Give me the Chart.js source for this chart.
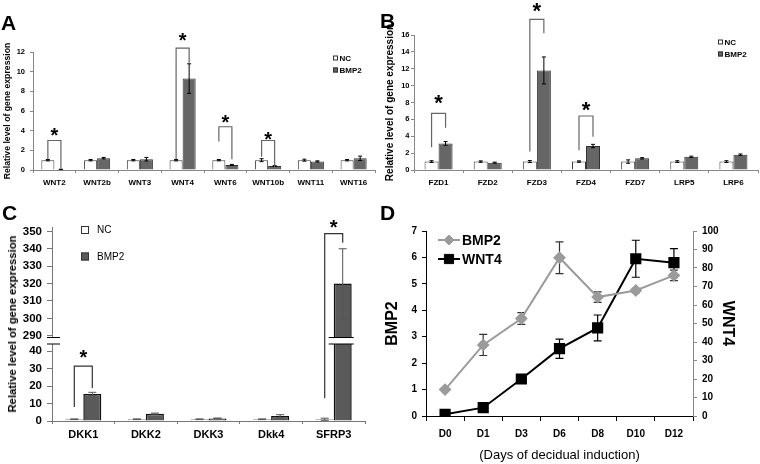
<!DOCTYPE html>
<html>
<head>
<meta charset="utf-8">
<script src="https://cdn.jsdelivr.net/npm/chart.js@4.4.1/dist/chart.umd.min.js"></script>
<style>
  body { margin: 0; background: #fff; }
  #figure { position: relative; width: 760px; height: 464px; overflow: hidden; font-family: 'Liberation Sans', Arial, sans-serif; }
  #figure canvas { position: absolute; }
  .tag { position: absolute; font-size: 21px; line-height: 21px; font-weight: bold; }
  .vtitle { position: absolute; white-space: nowrap; font-weight: bold; transform: translate(-50%, -50%) rotate(-90deg); }
</style>
</head>
<body>
<div id="figure">
  <canvas id="chartA" width="380" height="200" style="left:0;top:0"></canvas>
  <canvas id="chartB" width="380" height="200" style="left:380px;top:0"></canvas>
  <canvas id="chartCTop" width="380" height="125" style="left:0;top:215px"></canvas>
  <canvas id="chartCLow" width="380" height="124" style="left:0;top:340px"></canvas>
  <canvas id="chartD" width="380" height="244" style="left:380px;top:220px"></canvas>
  <div class="tag" style="left:1px;top:12px">A</div>
  <div class="tag" style="left:380px;top:10px">B</div>
  <div class="tag" style="left:2px;top:202px">C</div>
  <div class="tag" style="left:380px;top:202px">D</div>
  <div class="vtitle" style="left:12px;top:324px;font-size:11.25px">Relative level of gene expression</div>
</div>
<script>
/* ---- data ---- */
// A: WNT genes
const wntGenes = ['WNT2', 'WNT2b', 'WNT3', 'WNT4', 'WNT6', 'WNT10b', 'WNT11', 'WNT16'];
const wntNC = [1, 1, 1, 1, 1, 1, 1, 1];
const wntNCErr = [0.07, 0.07, 0.07, 0.07, 0.07, 0.15, 0.1, 0.07];
const wntBMP2 = [0.06, 1.2, 1.1, 9.3, 0.52, 0.4, 0.87, 1.19];
const wntBMP2Err = [0.02, 0.08, 0.18, 1.5, 0.05, 0.05, 0.06, 0.22];
// [index, left foot, top, right foot, star]
const wntSig = [[0, 1.1, 3.0, 0.15, 4.0], [3, 1.1, 12.4, 10.9, 13.7], [4, 2.9, 4.4, 1.1, 5.3], [5, 1.35, 3.0, 0.25, 3.65]];

// B: receptors
const fzdGenes = ['FZD1', 'FZD2', 'FZD3', 'FZD4', 'FZD7', 'LRP5', 'LRP6'];
const fzdNC = [1, 1, 1, 1, 1, 1, 1];
const fzdNCErr = [0.1, 0.08, 0.12, 0.08, 0.2, 0.1, 0.1];
const fzdBMP2 = [3.15, 0.87, 11.8, 2.84, 1.38, 1.56, 1.82];
const fzdBMP2Err = [0.22, 0.06, 1.6, 0.2, 0.08, 0.08, 0.08];
const fzdSig = [[0, 2.7, 6.7, 5.0, 8.6], [2, 2.2, 17.85, 16.2, 19.5], [3, 2.35, 6.4, 3.95, 7.8]];

// C: antagonists
const dkkGenes = ['DKK1', 'DKK2', 'DKK3', 'Dkk4', 'SFRP3'];
const dkkNC = [1, 1, 1, 1, 1];
const dkkNCErr = [0.2, 0.2, 0.2, 0.2, 0.6];
const dkkBMP2 = [15.5, 4.2, 1.5, 2.8, 320];
const dkkBMP2Err = [0.9, 0.3, 0.2, 0.8, 20];
const dkkSig = [[0, 8, 31.4, 18.9, 38.9], [4, 13, 348.7, 343.5, 354.8]];

// D: time course
const days = ['D0', 'D1', 'D3', 'D6', 'D8', 'D10', 'D12'];
const bmp2Course = [1.0, 2.69, 3.69, 5.99, 4.5, 4.75, 5.32];
const bmp2CourseErr = [0, 0.4, 0.22, 0.6, 0.2, 0.08, 0.2];
const wnt4Course = [0.9, 4.5, 20, 36.4, 47.6, 85, 82.9];
const wnt4CourseErr = [0, 0, 0, 5.2, 7, 10, 7.6];

/* ---- defaults ---- */
Chart.defaults.font.family = "'Liberation Sans', Arial, sans-serif";
Chart.defaults.color = '#000';
Chart.defaults.animation = false;
Chart.defaults.responsive = false;
Chart.defaults.plugins.legend.display = false;
Chart.defaults.plugins.tooltip.enabled = false;

const fixWidth = w => s => { s.width = w; s.paddingTop = 0; s.paddingBottom = 0; };
const fixHeight = h => s => { s.height = h; s.paddingLeft = 0; s.paddingRight = 0; };

/* ---- plugins ---- */
function errorBars(cap, width, under) {
    const draw = chart => {
        const { ctx, chartArea } = chart;
        ctx.save();
        ctx.beginPath();
        ctx.rect(chartArea.left - 10, chartArea.top - 1, chartArea.width + 20, chartArea.height + 2);
        ctx.clip();
        chart.data.datasets.forEach((ds, i) => {
            if (!ds.errors) return;
            const meta = chart.getDatasetMeta(i);
            const scale = chart.scales[meta.yAxisID];
            ctx.strokeStyle = ds.errorColor || '#000';
            ctx.lineWidth = width;
            meta.data.forEach((el, j) => {
                const err = ds.errors[j];
                if (!err) return;
                const hi = scale.getPixelForValue(ds.data[j] + err);
                const lo = scale.getPixelForValue(ds.data[j] - err);
                ctx.beginPath();
                ctx.moveTo(el.x, hi); ctx.lineTo(el.x, lo);
                ctx.moveTo(el.x - cap, hi); ctx.lineTo(el.x + cap, hi);
                ctx.moveTo(el.x - cap, lo); ctx.lineTo(el.x + cap, lo);
                ctx.stroke();
            });
        });
        ctx.restore();
    };
    return under ? { id: 'errorBars', beforeDatasetsDraw: draw } : { id: 'errorBars', afterDatasetsDraw: draw };
}

function sigBrackets(items, color, starSize) {
    return {
        id: 'sigBrackets',
        afterDatasetsDraw(chart) {
            const ctx = chart.ctx;
            const ys = chart.scales.y;
            const nc = chart.getDatasetMeta(0).data;
            const bmp = chart.getDatasetMeta(1).data;
            const py = v => Math.max(-30, Math.min(chart.height + 30, ys.getPixelForValue(v)));
            ctx.save();
            ctx.strokeStyle = color;
            ctx.lineWidth = 1.2;
            ctx.fillStyle = '#000';
            ctx.font = 'bold ' + starSize + "px 'Liberation Sans', Arial";
            ctx.textAlign = 'center';
            ctx.textBaseline = 'alphabetic';
            items.forEach(([i, left, top, right, star]) => {
                const x1 = nc[i].x, x2 = bmp[i].x;
                ctx.beginPath();
                ctx.moveTo(x1, py(left));
                ctx.lineTo(x1, py(top));
                ctx.lineTo(x2, py(top));
                ctx.lineTo(x2, py(right));
                ctx.stroke();
                ctx.fillText('*', (x1 + x2) / 2, py(star) + 0.57 * starSize);
            });
            ctx.restore();
        }
    };
}

function boxLegend(x, y, step, box, font, gap) {
    return {
        id: 'boxLegend',
        afterDraw(chart) {
            const ctx = chart.ctx;
            ctx.save();
            ctx.font = font;
            ctx.textAlign = 'left';
            ctx.textBaseline = 'middle';
            chart.data.datasets.forEach((ds, i) => {
                const cy = y + i * step;
                ctx.fillStyle = ds.backgroundColor;
                ctx.fillRect(x, cy - box / 2, box, box);
                ctx.strokeStyle = '#333';
                ctx.lineWidth = 1;
                ctx.strokeRect(x + 0.5, cy - box / 2 + 0.5, box - 1, box - 1);
                ctx.fillStyle = '#000';
                ctx.fillText(ds.label, x + box + gap, cy + 0.5);
            });
            ctx.restore();
        }
    };
}

function lineLegend(x1, x2, y, step, font) {
    return {
        id: 'lineLegend',
        afterDraw(chart) {
            const ctx = chart.ctx;
            ctx.save();
            ctx.font = font;
            ctx.textAlign = 'left';
            ctx.textBaseline = 'middle';
            chart.data.datasets.forEach((ds, i) => {
                const cy = y + i * step;
                ctx.strokeStyle = ds.borderColor;
                ctx.lineWidth = ds.borderWidth;
                ctx.beginPath();
                ctx.moveTo(x1, cy); ctx.lineTo(x2, cy);
                ctx.stroke();
                ctx.fillStyle = ds.pointBackgroundColor;
                ctx.lineWidth = 1;
                Chart.helpers.drawPoint(ctx, { pointStyle: ds.pointStyle, radius: ds.pointRadius, rotation: 0, borderWidth: 1 }, (x1 + x2) / 2, cy);
                ctx.fillStyle = '#000';
                ctx.fillText(ds.label, x2 + 2, cy + 1);
            });
            ctx.restore();
        }
    };
}

// axis break: short marks on the y axis and across cut bars
function breakMarks(edge) {
    return {
        id: 'breakMarks',
        afterDatasetsDraw(chart) {
            const { ctx, chartArea } = chart;
            const ys = chart.scales.y;
            const y = edge === 'top' ? chartArea.top : chartArea.bottom;
            ctx.save();
            ctx.strokeStyle = '#000';
            ctx.lineWidth = 1.2;
            ctx.beginPath();
            ctx.moveTo(chartArea.left - 5, y); ctx.lineTo(chartArea.left + 8, y);
            chart.data.datasets.forEach((ds, i) => {
                chart.getDatasetMeta(i).data.forEach((el, j) => {
                    const cut = edge === 'top' ? ds.data[j] > ys.max : ds.data[j] > ys.min;
                    if (cut) {
                        ctx.moveTo(el.x - el.width / 2 - 5, y);
                        ctx.lineTo(el.x + el.width / 2 + 2, y);
                    }
                });
            });
            ctx.stroke();
            ctx.restore();
        }
    };
}

/* ---- A & B: small bar panels ---- */
function smallBarPanel(id, genes, nc, ncErr, bmp, bmpErr, sig, o) {
    return new Chart(document.getElementById(id), {
        type: 'bar',
        data: {
            labels: genes,
            datasets: [
                { label: 'NC', data: nc, errors: ncErr, backgroundColor: '#ffffff', borderColor: '#3a3a3a', borderWidth: 1, categoryPercentage: o.cat, barPercentage: 1 },
                { label: 'BMP2', data: bmp, errors: bmpErr, backgroundColor: '#666666', borderColor: '#333333', borderWidth: 1, categoryPercentage: o.cat, barPercentage: 1 }
            ]
        },
        options: {
            layout: { padding: { top: o.top, right: o.right, bottom: 0, left: 0 } },
            scales: {
                x: {
                    grid: { drawOnChartArea: false, tickLength: 3, color: '#888' },
                    border: { color: '#888' },
                    ticks: { font: { size: 8, weight: 'bold' }, padding: 5, autoSkip: false, maxRotation: 0 },
                    afterFit: fixHeight(30)
                },
                y: {
                    min: 0, max: o.max,
                    grid: { drawOnChartArea: false, tickLength: 3, color: '#888' },
                    border: { color: '#888' },
                    ticks: { stepSize: 2, font: { size: 7.5, weight: 'bold' }, padding: o.tickPad },
                    title: { display: true, text: 'Relative level of gene expression', font: { size: o.titleSize, weight: 'bold' }, padding: { top: o.titlePad, bottom: 0 } },
                    afterFit: fixWidth(o.axisW)
                }
            }
        },
        plugins: [errorBars(2, 1, false), sigBrackets(sig, '#666', o.star), boxLegend(o.legX, o.legY, 12, 5, "bold 8px 'Liberation Sans', Arial", 1.5)]
    });
}

smallBarPanel('chartA', wntGenes, wntNC, wntNCErr, wntBMP2, wntBMP2Err, wntSig,
    { cat: 0.61, top: 52, right: 5, max: 12, tickPad: 5, titleSize: 8.7, titlePad: 2, axisW: 33, star: 20, legX: 333, legY: 58 });
smallBarPanel('chartB', fzdGenes, fzdNC, fzdNCErr, fzdBMP2, fzdBMP2Err, fzdSig,
    { cat: 0.57, top: 35, right: 2, max: 16, tickPad: 1.5, titleSize: 10, titlePad: 4, axisW: 34, star: 22, legX: 338, legY: 42 });

/* ---- C: broken axis, two stacked charts ---- */
function dkkDatasets() {
    return [
        { label: 'NC', data: dkkNC, errors: dkkNCErr, errorColor: '#555', backgroundColor: '#ffffff', borderColor: '#8a8a8a', borderWidth: 1, categoryPercentage: 0.575, barPercentage: 1, clip: 0 },
        { label: 'BMP2', data: dkkBMP2, errors: dkkBMP2Err, errorColor: '#555', backgroundColor: '#5a5a5a', borderColor: '#111111', borderWidth: 1.5, categoryPercentage: 0.575, barPercentage: 1, clip: 0 }
    ];
}
const cTicks = { stepSize: 10, includeBounds: false, font: { size: 11.5, weight: 'bold' }, padding: 5 };

new Chart(document.getElementById('chartCTop'), {
    type: 'bar',
    data: { labels: dkkGenes, datasets: dkkDatasets() },
    options: {
        layout: { padding: { top: 12, right: 15, bottom: 2.5, left: 0 } },
        scales: {
            x: { display: false },
            y: {
                min: 289, max: 352.5,
                grid: { drawOnChartArea: false, tickLength: 5, color: '#777' },
                border: { color: '#777' },
                ticks: cTicks,
                afterFit: fixWidth(52)
            }
        }
    },
    plugins: [errorBars(4, 1, false), sigBrackets(dkkSig, '#333', 20), breakMarks('bottom'), boxLegend(81, 15, 26.5, 8, "10px 'Liberation Sans', Arial", 8)]
});

new Chart(document.getElementById('chartCLow'), {
    type: 'bar',
    data: { labels: dkkGenes, datasets: dkkDatasets() },
    options: {
        layout: { padding: { top: 4, right: 15, bottom: 0, left: 0 } },
        scales: {
            x: {
                grid: { drawOnChartArea: false, tickLength: 3, color: '#777' },
                border: { color: '#777' },
                ticks: { font: { size: 11, weight: 'bold' }, padding: 4.5, autoSkip: false, maxRotation: 0 },
                afterFit: fixHeight(43)
            },
            y: {
                min: 0, max: 44,
                grid: { drawOnChartArea: false, tickLength: 5, color: '#777' },
                border: { color: '#777' },
                ticks: cTicks,
                afterFit: fixWidth(52)
            }
        }
    },
    plugins: [errorBars(4, 1, false), sigBrackets(dkkSig, '#333', 20), breakMarks('top')]
});

/* ---- D: time course, two y axes ---- */
new Chart(document.getElementById('chartD'), {
    type: 'line',
    data: {
        labels: days,
        datasets: [
            { label: 'BMP2', data: bmp2Course, errors: bmp2CourseErr, errorColor: '#333', yAxisID: 'y', borderColor: '#9b9b9b', borderWidth: 2, pointStyle: 'rectRot', pointRadius: 5, pointBackgroundColor: '#9b9b9b', pointBorderColor: '#9b9b9b', tension: 0 },
            { label: 'WNT4', data: wnt4Course, errors: wnt4CourseErr, errorColor: '#000', yAxisID: 'y2', borderColor: '#000000', borderWidth: 2, pointStyle: 'rect', pointRadius: 6.5, pointBackgroundColor: '#000000', pointBorderColor: '#000000', tension: 0 }
        ]
    },
    options: {
        layout: { padding: { top: 11, right: 19, bottom: 0, left: 0 } },
        scales: {
            x: {
                offset: true,
                grid: { offset: true, drawOnChartArea: false, tickLength: 5, color: '#000' },
                border: { color: '#000' },
                ticks: { font: { size: 10, weight: 'bold' }, padding: 7, autoSkip: false, maxRotation: 0 },
                title: { display: true, text: '(Days of decidual induction)', font: { size: 13 }, padding: { top: 0, bottom: 1 } },
                afterFit: fixHeight(48)
            },
            y: {
                position: 'left', min: 0, max: 7,
                grid: { drawOnChartArea: false, tickLength: 4, color: '#000' },
                border: { color: '#000' },
                ticks: { stepSize: 1, font: { size: 10, weight: 'bold' }, padding: 5 },
                title: { display: true, text: 'BMP2', font: { size: 16, weight: 'bold' }, padding: { top: 3.4, bottom: 0 } },
                afterFit: fixWidth(46)
            },
            y2: {
                position: 'right', min: 0, max: 100,
                grid: { drawOnChartArea: false, tickLength: 4, color: '#888' },
                border: { color: '#888' },
                ticks: { stepSize: 10, font: { size: 10, weight: 'bold' }, padding: 5 },
                title: { display: true, text: 'WNT4', font: { size: 16, weight: 'bold' }, padding: { top: 4.4, bottom: 0 } },
                afterFit: fixWidth(48)
            }
        }
    },
    plugins: [errorBars(4, 1.2, true), lineLegend(58, 80, 20, 19, "bold 14px 'Liberation Sans', Arial")]
});
</script>
</body>
</html>
